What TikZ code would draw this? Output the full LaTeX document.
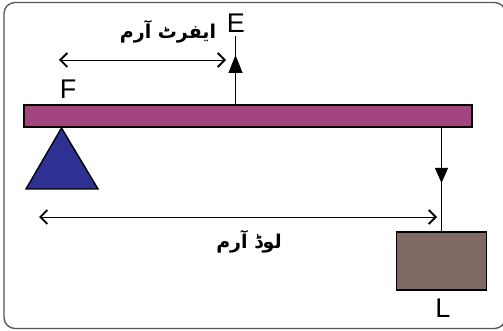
\documentclass[tikz,border=0pt]{standalone}
\usepackage{fontspec}
\setmainfont{Liberation Sans}
\newfontfamily\urdufont[Script=Arabic]{DejaVu Sans}
\TeXXeTstate=1
\usetikzlibrary{arrows.meta,decorations.markings}
\definecolor{beamcol}{HTML}{A3447F}
\definecolor{tricol}{HTML}{2E3192}
\definecolor{boxcol}{HTML}{7F6A65}
\definecolor{framecol}{HTML}{555555}
\tikzset{
  lbl/.style={font=\fontsize{27}{30}\selectfont, inner sep=0pt},
  urdu/.style={font=\urdufont\bfseries\fontsize{19}{22}\selectfont, inner sep=0pt},
  armarrow/.style={line width=0.9pt, {Straight Barb[length=7pt,width=14pt,line width=1.8pt]}-{Straight Barb[length=7pt,width=14pt,line width=1.8pt]}},
  forceline/.style={line width=0.9pt},
}
\begin{document}
\begin{tikzpicture}[x=1pt,y=-1pt]
\useasboundingbox (0,0) rectangle (503,331);
% frame
\draw[framecol, line width=1.3pt, rounded corners=11pt] (4,2.5) rectangle (505.5,328.5);
% beam
\node[draw=black, line width=1.4pt, fill=beamcol, minimum width=448pt, minimum height=22pt, inner sep=0pt] (beam) at (248,116) {};
% fulcrum triangle
\coordinate (apex) at (61.5,128);
\coordinate (bl) at (26,189);
\coordinate (br) at (98,189);
\draw[line width=1.4pt, fill=tricol, line join=miter] (apex) -- (bl) -- (br) -- cycle;
% load box
\node[draw=black, line width=1.8pt, fill=boxcol, minimum width=90pt, minimum height=58pt, inner sep=0pt] (load) at (441.5,261) {};
% labels
\node[lbl] (E) at (236,23) {E};
\node[lbl] (F) at (68,89) {F};
\node[lbl] (L) at (443,308) {L};
% effort force
\coordinate (ebase) at (235.5,105);
\coordinate (etop) at (235.5,36);
\draw[forceline, postaction={decorate}, decoration={markings, mark=at position 50pt with {\arrow{Triangle[length=18pt,width=14pt]}}}] (ebase) -- (etop);
% load force
\coordinate (lstart) at (441.5,127);
\coordinate (lend) at (441.5,232);
\draw[forceline, postaction={decorate}, decoration={markings, mark=at position 56pt with {\arrow{Triangle[length=15pt,width=13pt]}}}] (lstart) -- (lend);
% effort arm
\coordinate (ea1) at (59,60);
\coordinate (ea2) at (226,60);
\draw[armarrow] (ea1) -- (ea2);
\node[urdu] (effortarm) at (168,32) {\beginR ایفرٹ آرم\endR};
% load arm
\coordinate (la1) at (39,217);
\coordinate (la2) at (437,217);
\draw[armarrow] (la1) -- (la2);
\node[urdu] (loadarm) at (249,242) {\beginR لوڈ آرم\endR};
\end{tikzpicture}
\end{document}
